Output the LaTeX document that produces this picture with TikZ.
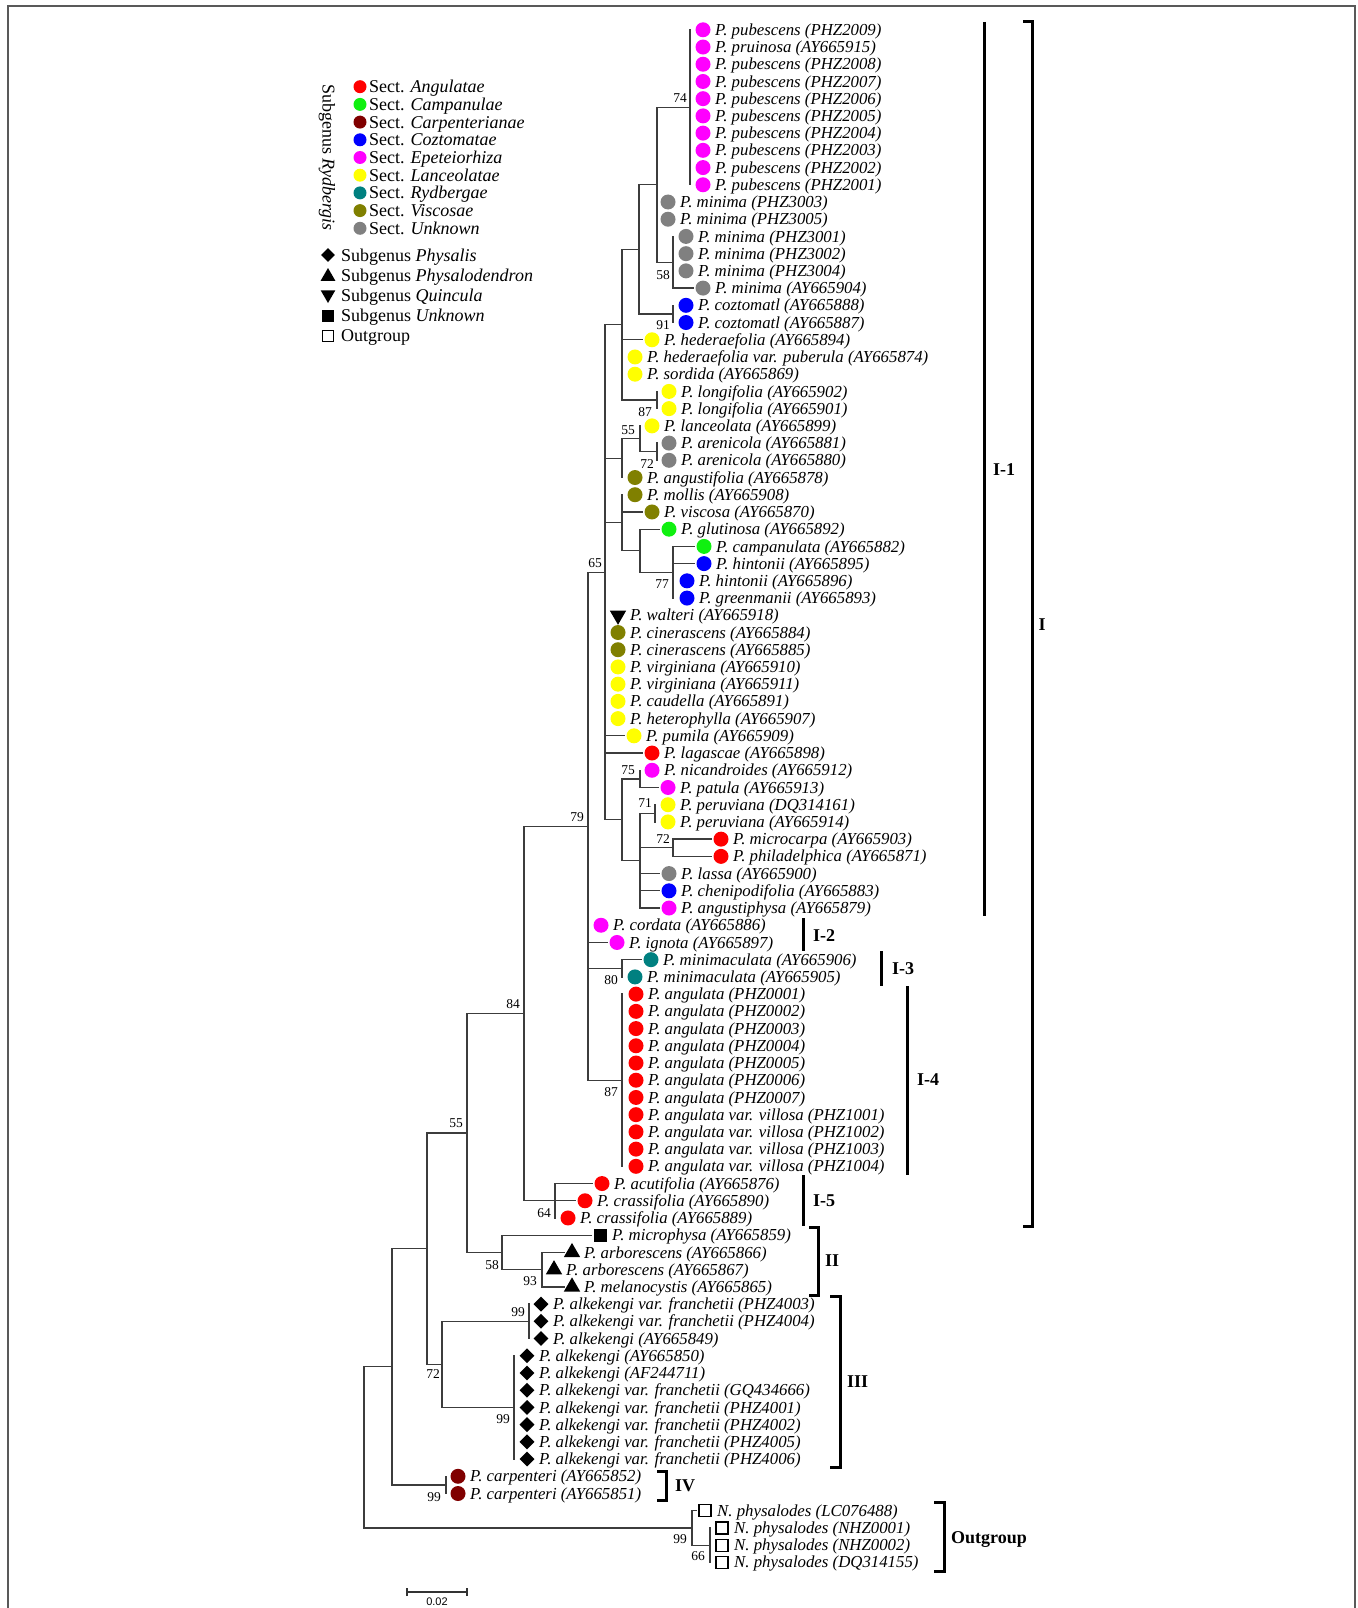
\documentclass[tikz,border=0pt]{standalone}
\usepackage{fontspec}
\setmainfont{Liberation Serif}
\setsansfont{Liberation Sans}
\usetikzlibrary{shapes.geometric}
\definecolor{cAng}{HTML}{FF0000}
\definecolor{cCam}{HTML}{10F010}
\definecolor{cCar}{HTML}{800000}
\definecolor{cCoz}{HTML}{0000FF}
\definecolor{cEpe}{HTML}{FF00FF}
\definecolor{cLan}{HTML}{FFFF00}
\definecolor{cRyd}{HTML}{008080}
\definecolor{cVis}{HTML}{808000}
\definecolor{cUnk}{HTML}{808080}
\definecolor{treeline}{HTML}{3C3C3C}
\tikzset{
  sdot/.style={circle, fill=#1, draw=none, minimum size=15, inner sep=0},
  kAng/.style={sdot=cAng}, kCam/.style={sdot=cCam}, kCar/.style={sdot=cCar},
  kCoz/.style={sdot=cCoz}, kEpe/.style={sdot=cEpe}, kLan/.style={sdot=cLan},
  kRyd/.style={sdot=cRyd}, kVis/.style={sdot=cVis}, kUnk/.style={sdot=cUnk},
  sdia/.style={diamond, fill=black, draw=none, minimum width=15, minimum height=15, inner sep=0, aspect=1},
  stri/.style={regular polygon, regular polygon sides=3, fill=black, draw=none, minimum size=19, inner sep=0},
  sdown/.style={stri, shape border rotate=180},
  ssq/.style={rectangle, fill=black, draw=none, minimum size=13, inner sep=0},
  sosq/.style={rectangle, draw=black, line width=1.2, fill=white, minimum size=12, inner sep=0},
  lt/.style={anchor=base west, inner sep=0, font=\fontsize{16.8}{18}\selectfont\itshape},
  bs/.style={inner sep=0, font=\fontsize{13.5}{15}\selectfont},
  br/.style={line width=3, black},
  brl/.style={anchor=base west, inner sep=0, font=\fontsize{18}{20}\selectfont\bfseries},
  tl/.style={treeline, line width=1.3, line cap=rect},
  legt/.style={anchor=base west, inner sep=0, font=\fontsize{18}{20}\selectfont},
}
\newcommand\Leaf[4]{%
  \node[#3] (d#1) at (#2,{29.8+(#1-1)*17.22}) {};
  \node[lt] (t#1) at (#2+12,{35.4+(#1-1)*17.22}) {#4};}
\begin{document}
\begin{tikzpicture}[x=1pt,y=-1pt]
\path[use as bounding box] (0,0) rectangle (1357,1608);
\begin{scope}
\clip (0,0) rectangle (1357,1608);
\draw[line width=1.5, black!65] (8,6) rectangle (1355,1650);
\end{scope}

% ---------- legend ----------
\node[rotate=-90, inner sep=0, font=\fontsize{18}{20}\selectfont] (lgr) at (327,157.5) {Subgenus \textit{Rydbergis}};
\node[kAng, minimum size=13] (lg1) at (360,86.7) {};  \node[legt] (lgt1) at (369,92.7) {Sect. \textit{Angulatae}};
\node[kCam, minimum size=13] (lg2) at (360,104.4) {}; \node[legt] (lgt2) at (369,110.4) {Sect. \textit{Campanulae}};
\node[kCar, minimum size=13] (lg3) at (360,122.1) {}; \node[legt] (lgt3) at (369,128.1) {Sect. \textit{Carpenterianae}};
\node[kCoz, minimum size=13] (lg4) at (360,139.8) {}; \node[legt] (lgt4) at (369,145.8) {Sect. \textit{Coztomatae}};
\node[kEpe, minimum size=13] (lg5) at (360,157.5) {}; \node[legt] (lgt5) at (369,163.5) {Sect. \textit{Epeteiorhiza}};
\node[kLan, minimum size=13] (lg6) at (360,175.2) {}; \node[legt] (lgt6) at (369,181.2) {Sect. \textit{Lanceolatae}};
\node[kRyd, minimum size=13] (lg7) at (360,192.9) {}; \node[legt] (lgt7) at (369,198.9) {Sect. \textit{Rydbergae}};
\node[kVis, minimum size=13] (lg8) at (360,210.6) {}; \node[legt] (lgt8) at (369,216.6) {Sect. \textit{Viscosae}};
\node[kUnk, minimum size=13] (lg9) at (360,228.3) {}; \node[legt] (lgt9) at (369,234.3) {Sect. \textit{Unknown}};
\node[sdia, minimum width=14, minimum height=14] (ls1) at (328,255) {};   \node[legt] (lst1) at (341,261) {Subgenus \textit{Physalis}};
\node[stri, minimum size=17] (ls2) at (328,276.5) {};  \node[legt] (lst2) at (341,281.2) {Subgenus \textit{Physalodendron}};
\node[sdown, minimum size=17] (ls3) at (328,294.5) {}; \node[legt] (lst3) at (341,301.4) {Subgenus \textit{Quincula}};
\node[ssq, minimum size=12] (ls4) at (328,315.6) {};   \node[legt] (lst4) at (341,321.6) {Subgenus \textit{Unknown}};
\node[sosq, minimum size=11] (ls5) at (328,335.8) {};  \node[legt] (lst5) at (341,341.8) {Outgroup};

% ---------- leaves ----------
\Leaf{1}{703}{kEpe}{P. pubescens (PHZ2009)}
\Leaf{2}{703}{kEpe}{P. pruinosa (AY665915)}
\Leaf{3}{703}{kEpe}{P. pubescens (PHZ2008)}
\Leaf{4}{703}{kEpe}{P. pubescens (PHZ2007)}
\Leaf{5}{703}{kEpe}{P. pubescens (PHZ2006)}
\Leaf{6}{703}{kEpe}{P. pubescens (PHZ2005)}
\Leaf{7}{703}{kEpe}{P. pubescens (PHZ2004)}
\Leaf{8}{703}{kEpe}{P. pubescens (PHZ2003)}
\Leaf{9}{703}{kEpe}{P. pubescens (PHZ2002)}
\Leaf{10}{703}{kEpe}{P. pubescens (PHZ2001)}
\Leaf{11}{668}{kUnk}{P. minima (PHZ3003)}
\Leaf{12}{668}{kUnk}{P. minima (PHZ3005)}
\Leaf{13}{686}{kUnk}{P. minima (PHZ3001)}
\Leaf{14}{686}{kUnk}{P. minima (PHZ3002)}
\Leaf{15}{686}{kUnk}{P. minima (PHZ3004)}
\Leaf{16}{703}{kUnk}{P. minima (AY665904)}
\Leaf{17}{686}{kCoz}{P. coztomatl (AY665888)}
\Leaf{18}{686}{kCoz}{P. coztomatl (AY665887)}
\Leaf{19}{652}{kLan}{P. hederaefolia (AY665894)}
\Leaf{20}{635}{kLan}{P. hederaefolia var. puberula (AY665874)}
\Leaf{21}{635}{kLan}{P. sordida (AY665869)}
\Leaf{22}{669}{kLan}{P. longifolia (AY665902)}
\Leaf{23}{669}{kLan}{P. longifolia (AY665901)}
\Leaf{24}{652}{kLan}{P. lanceolata (AY665899)}
\Leaf{25}{669}{kUnk}{P. arenicola (AY665881)}
\Leaf{26}{669}{kUnk}{P. arenicola (AY665880)}
\Leaf{27}{635}{kVis}{P. angustifolia (AY665878)}
\Leaf{28}{635}{kVis}{P. mollis (AY665908)}
\Leaf{29}{652}{kVis}{P. viscosa (AY665870)}
\Leaf{30}{669}{kCam}{P. glutinosa (AY665892)}
\Leaf{31}{704}{kCam}{P. campanulata (AY665882)}
\Leaf{32}{704}{kCoz}{P. hintonii (AY665895)}
\Leaf{33}{687}{kCoz}{P. hintonii (AY665896)}
\Leaf{34}{687}{kCoz}{P. greenmanii (AY665893)}
\Leaf{35}{618}{sdown}{P. walteri (AY665918)}
\Leaf{36}{618}{kVis}{P. cinerascens (AY665884)}
\Leaf{37}{618}{kVis}{P. cinerascens (AY665885)}
\Leaf{38}{618}{kLan}{P. virginiana (AY665910)}
\Leaf{39}{618}{kLan}{P. virginiana (AY665911)}
\Leaf{40}{618}{kLan}{P. caudella (AY665891)}
\Leaf{41}{618}{kLan}{P. heterophylla (AY665907)}
\Leaf{42}{634}{kLan}{P. pumila (AY665909)}
\Leaf{43}{652}{kAng}{P. lagascae (AY665898)}
\Leaf{44}{652}{kEpe}{P. nicandroides (AY665912)}
\Leaf{45}{668}{kEpe}{P. patula (AY665913)}
\Leaf{46}{668}{kLan}{P. peruviana (DQ314161)}
\Leaf{47}{668}{kLan}{P. peruviana (AY665914)}
\Leaf{48}{721}{kAng}{P. microcarpa (AY665903)}
\Leaf{49}{721}{kAng}{P. philadelphica (AY665871)}
\Leaf{50}{669}{kUnk}{P. lassa (AY665900)}
\Leaf{51}{669}{kCoz}{P. chenipodifolia (AY665883)}
\Leaf{52}{669}{kEpe}{P. angustiphysa (AY665879)}
\Leaf{53}{601}{kEpe}{P. cordata (AY665886)}
\Leaf{54}{617}{kEpe}{P. ignota (AY665897)}
\Leaf{55}{651}{kRyd}{P. minimaculata (AY665906)}
\Leaf{56}{635}{kRyd}{P. minimaculata (AY665905)}
\Leaf{57}{636}{kAng}{P. angulata (PHZ0001)}
\Leaf{58}{636}{kAng}{P. angulata (PHZ0002)}
\Leaf{59}{636}{kAng}{P. angulata (PHZ0003)}
\Leaf{60}{636}{kAng}{P. angulata (PHZ0004)}
\Leaf{61}{636}{kAng}{P. angulata (PHZ0005)}
\Leaf{62}{636}{kAng}{P. angulata (PHZ0006)}
\Leaf{63}{636}{kAng}{P. angulata (PHZ0007)}
\Leaf{64}{636}{kAng}{P. angulata var. villosa (PHZ1001)}
\Leaf{65}{636}{kAng}{P. angulata var. villosa (PHZ1002)}
\Leaf{66}{636}{kAng}{P. angulata var. villosa (PHZ1003)}
\Leaf{67}{636}{kAng}{P. angulata var. villosa (PHZ1004)}
\Leaf{68}{602}{kAng}{P. acutifolia (AY665876)}
\Leaf{69}{585}{kAng}{P. crassifolia (AY665890)}
\Leaf{70}{568}{kAng}{P. crassifolia (AY665889)}
\Leaf{71}{600}{ssq}{P. microphysa (AY665859)}
\Leaf{72}{572}{stri}{P. arborescens (AY665866)}
\Leaf{73}{554}{stri}{P. arborescens (AY665867)}
\Leaf{74}{572}{stri}{P. melanocystis (AY665865)}
\Leaf{75}{541}{sdia}{P. alkekengi var. franchetii (PHZ4003)}
\Leaf{76}{541}{sdia}{P. alkekengi var. franchetii (PHZ4004)}
\Leaf{77}{541}{sdia}{P. alkekengi (AY665849)}
\Leaf{78}{527}{sdia}{P. alkekengi (AY665850)}
\Leaf{79}{527}{sdia}{P. alkekengi (AF244711)}
\Leaf{80}{527}{sdia}{P. alkekengi var. franchetii (GQ434666)}
\Leaf{81}{527}{sdia}{P. alkekengi var. franchetii (PHZ4001)}
\Leaf{82}{527}{sdia}{P. alkekengi var. franchetii (PHZ4002)}
\Leaf{83}{527}{sdia}{P. alkekengi var. franchetii (PHZ4005)}
\Leaf{84}{527}{sdia}{P. alkekengi var. franchetii (PHZ4006)}
\Leaf{85}{458}{kCar}{P. carpenteri (AY665852)}
\Leaf{86}{458}{kCar}{P. carpenteri (AY665851)}
\Leaf{87}{705}{sosq}{N. physalodes (LC076488)}
\Leaf{88}{722}{sosq}{N. physalodes (NHZ0001)}
\Leaf{89}{722}{sosq}{N. physalodes (NHZ0002)}
\Leaf{90}{722}{sosq}{N. physalodes (DQ314155)}

% ---------- internal nodes ----------
\coordinate (R) at (364,1447.35);
\coordinate (A) at (392,1366.8);
\coordinate (B) at (427,1248.65);
\coordinate (C) at (467,1132.95);
\coordinate (D) at (524,1013.5);
\coordinate (E) at (588,826.2);
\coordinate (F) at (605,572.25);
\coordinate (G) at (622,324.7);
\coordinate (H) at (639,249.35);
\coordinate (J) at (657,184.8);
\coordinate (K) at (690,107.3);
\coordinate (L) at (673,262.25);
\coordinate (M) at (673,313.9);
\coordinate (N) at (657,400);
\coordinate (O) at (622,458.15);
\coordinate (P) at (640,438.8);
\coordinate (Q) at (657,451.7);
\coordinate (S) at (622,522.7);
\coordinate (T) at (640,550.7);
\coordinate (U) at (673,572.25);
\coordinate (V) at (622,819.8);
\coordinate (W) at (640,778.9);
\coordinate (X) at (640,860.65);
\coordinate (Y) at (655,813.3);
\coordinate (Z) at (673,847.75);
\coordinate (AA) at (622,968.3);
\coordinate (AB) at (622,1080.2);
\coordinate (AC) at (555,1200.75);
\coordinate (AD) at (502,1252.4);
\coordinate (AE) at (542,1269.65);
\coordinate (AF) at (529,1321.3);
\coordinate (AG) at (514,1407.4);
\coordinate (AH) at (442,1364.35);
\coordinate (AI) at (446,1484.9);
\coordinate (AJ) at (692,1527.9);
\coordinate (AK) at (710,1545.15);

% ---------- tree lines ----------
\begin{scope}[tl]
\draw (R |- A) -- (R |- AJ); \draw (R |- A) -- (A); \draw (R |- AJ) -- (AJ);
\draw (A |- B) -- (A |- AI); \draw (A |- B) -- (B); \draw (A |- AI) -- (AI);
\draw (B |- C) -- (B |- AH); \draw (B |- C) -- (C); \draw (B |- AH) -- (AH);
\draw (C |- D) -- (C |- AD); \draw (C |- D) -- (D); \draw (C |- AD) -- (AD);
\draw (D |- E) -- (D |- AC); \draw (D |- E) -- (E); \draw (D |- AC) -- (AC);
\draw (E |- F) -- (E |- AB); \draw (E |- F) -- (F); \draw (E |- AA) -- (AA); \draw (E |- AB) -- (AB);
\draw[shorten >=2] (E |- d54) -- (d54.west);
\draw (F |- G) -- (F |- V); \draw (F |- G) -- (G); \draw (F |- O) -- (O); \draw (F |- S) -- (S); \draw (F |- V) -- (V);
\draw[shorten >=2] (F |- d42) -- (d42.west); \draw[shorten >=2] (F |- d43) -- (d43.west);
\draw (G |- H) -- (G |- N); \draw (G |- H) -- (H); \draw (G |- N) -- (N);
\draw[shorten >=2] (G |- d19) -- (d19.west);
\draw (H |- J) -- (H |- M); \draw (H |- J) -- (J); \draw (H |- M) -- (M);
\draw (J |- K) -- (J |- L); \draw (J |- K) -- (K); \draw (J |- L) -- (L);
\draw (K |- d1) -- (K |- d10);
\draw (L |- d13) -- (L |- d16); \draw[shorten >=2] (L |- d16) -- (d16.west);
\draw (M |- d17) -- (M |- d18);
\draw (N |- d22) -- (N |- d23);
\draw (O |- P) -- (O |- d27); \draw (O |- P) -- (P);
\draw (P |- d24) -- (P |- Q); \draw (P |- Q) -- (Q);
\draw (Q |- d25) -- (Q |- d26);
\draw (S |- d28) -- (S |- T); \draw (S |- T) -- (T); \draw[shorten >=2] (S |- d29) -- (d29.west);
\draw (T |- d30) -- (T |- U); \draw (T |- U) -- (U); \draw[shorten >=2] (T |- d30) -- (d30.west);
\draw (U |- d31) -- (U |- d34); \draw[shorten >=2] (U |- d31) -- (d31.west); \draw[shorten >=2] (U |- d32) -- (d32.west);
\draw (V |- W) -- (V |- X); \draw (V |- W) -- (W); \draw (V |- X) -- (X);
\draw (W |- d44) -- (W |- d45); \draw[shorten >=2] (W |- d45) -- (d45.west);
\draw (X |- Y) -- (X |- d52); \draw (X |- Y) -- (Y); \draw (X |- Z) -- (Z);
\draw[shorten >=2] (X |- d50) -- (d50.west); \draw[shorten >=2] (X |- d51) -- (d51.west); \draw[shorten >=2] (X |- d52) -- (d52.west);
\draw (Y |- d46) -- (Y |- d47);
\draw (Z |- d48) -- (Z |- d49); \draw[shorten >=2] (Z |- d48) -- (d48.west); \draw[shorten >=2] (Z |- d49) -- (d49.west);
\draw (AA |- d55) -- (AA |- d56); \draw[shorten >=2] (AA |- d55) -- (d55.west);
\draw (AB |- d57) -- (AB |- d67);
\draw (AC |- d68) -- (AC |- d70); \draw[shorten >=2] (AC |- d68) -- (d68.west); \draw[shorten >=2] (AC |- d69) -- (d69.west);
\draw (AD |- d71) -- (AD |- AE); \draw (AD |- AE) -- (AE); \draw[shorten >=2] (AD |- d71) -- (d71.west);
\draw (AE |- d72) -- (AE |- d74); \draw[shorten >=2] (AE |- d72) -- (d72.west); \draw[shorten >=2] (AE |- d74) -- (d74.west);
\draw (AF |- d75) -- (AF |- d77);
\draw (AG |- d78) -- (AG |- d84);
\draw (AH |- AF) -- (AH |- AG); \draw (AH |- AF) -- (AF); \draw (AH |- AG) -- (AG);
\draw (AI |- d85) -- (AI |- d86);
\draw (AJ |- d87) -- (AJ |- AK); \draw (AJ |- AK) -- (AK); \draw[shorten >=2] (AJ |- d87) -- (d87.west);
\draw (AK |- d88) -- (AK |- d90);
\end{scope}

% ---------- bootstrap values ----------
\node[bs] (b74) at (680,98) {74};
\node[bs] (b58a) at (663,275) {58};
\node[bs] (b91) at (663,325) {91};
\node[bs] (b87a) at (645,412) {87};
\node[bs] (b55a) at (628,430) {55};
\node[bs] (b72a) at (647,464) {72};
\node[bs] (b77) at (662,584) {77};
\node[bs] (b65) at (595,563) {65};
\node[bs] (b75) at (628,770) {75};
\node[bs] (b71) at (645,803) {71};
\node[bs] (b72b) at (663,839) {72};
\node[bs] (b79) at (577,817) {79};
\node[bs] (b80) at (611,980) {80};
\node[bs] (b87b) at (611,1092) {87};
\node[bs] (b84) at (513,1004) {84};
\node[bs] (b55b) at (456,1123) {55};
\node[bs] (b64) at (544,1213) {64};
\node[bs] (b58b) at (492,1265) {58};
\node[bs] (b93) at (530,1281) {93};
\node[bs] (b99a) at (518,1312) {99};
\node[bs] (b72c) at (433,1374) {72};
\node[bs] (b99b) at (503,1419) {99};
\node[bs] (b99c) at (434,1497) {99};
\node[bs] (b99d) at (680,1539) {99};
\node[bs] (b66) at (698,1556) {66};

% ---------- brackets ----------
\coordinate (kI1a) at (984,22);   \coordinate (kI1b) at (984,916);
\coordinate (kIa) at (1032,22);   \coordinate (kIb) at (1032,1226);
\coordinate (kI2a) at (803,918);  \coordinate (kI2b) at (803,951);
\coordinate (kI3a) at (881,951);  \coordinate (kI3b) at (881,986);
\coordinate (kI4a) at (907,986);  \coordinate (kI4b) at (907,1175);
\coordinate (kI5a) at (803,1175); \coordinate (kI5b) at (803,1226);
\coordinate (kIIa) at (818,1227); \coordinate (kIIb) at (818,1295);
\coordinate (kIIIa) at (840,1296); \coordinate (kIIIb) at (840,1467);
\coordinate (kIVa) at (666,1471); \coordinate (kIVb) at (666,1500);
\coordinate (kOa) at (944,1502);  \coordinate (kOb) at (944,1571);
\draw[br] (kI1a) -- (kI1b);
\draw[br] ([xshift=-9]kIa) -- (kIa) -- (kIb) -- ([xshift=-9]kIb);
\draw[br] (kI2a) -- (kI2b);
\draw[br] (kI3a) -- (kI3b);
\draw[br] (kI4a) -- (kI4b);
\draw[br] (kI5a) -- (kI5b);
\draw[br] ([xshift=-9]kIIa) -- (kIIa) -- (kIIb) -- ([xshift=-9]kIIb);
\draw[br] ([xshift=-10]kIIIa) -- (kIIIa) -- (kIIIb) -- ([xshift=-10]kIIIb);
\draw[br] ([xshift=-9]kIVa) -- (kIVa) -- (kIVb) -- ([xshift=-9]kIVb);
\draw[br] ([xshift=-10]kOa) -- (kOa) -- (kOb) -- ([xshift=-10]kOb);
\node[brl] (lI1) at (993,475) {I-1};
\node[brl] (lI) at (1038.5,630) {I};
\node[brl] (lI2) at (813,941) {I-2};
\node[brl] (lI3) at (892,974) {I-3};
\node[brl] (lI4) at (917,1085) {I-4};
\node[brl] (lI5) at (813,1206) {I-5};
\node[brl] (lII) at (825,1266) {II};
\node[brl] (lIII) at (847,1387) {III};
\node[brl] (lIV) at (675,1491) {IV};
\node[brl] (lOut) at (951,1543) {Outgroup};

% ---------- scale bar ----------
\coordinate (sb1) at (407,1592); \coordinate (sb2) at (467,1592);
\draw[line width=1.3, black!80] (sb1) -- (sb2);
\draw[line width=1.3, black!80] ([yshift=-4]sb1) -- ([yshift=4]sb1);
\draw[line width=1.3, black!80] ([yshift=-4]sb2) -- ([yshift=4]sb2);
\node[inner sep=0, font=\sffamily\fontsize{11}{12}\selectfont] (sbl) at (437,1602) {0.02};
\end{tikzpicture}
\end{document}
